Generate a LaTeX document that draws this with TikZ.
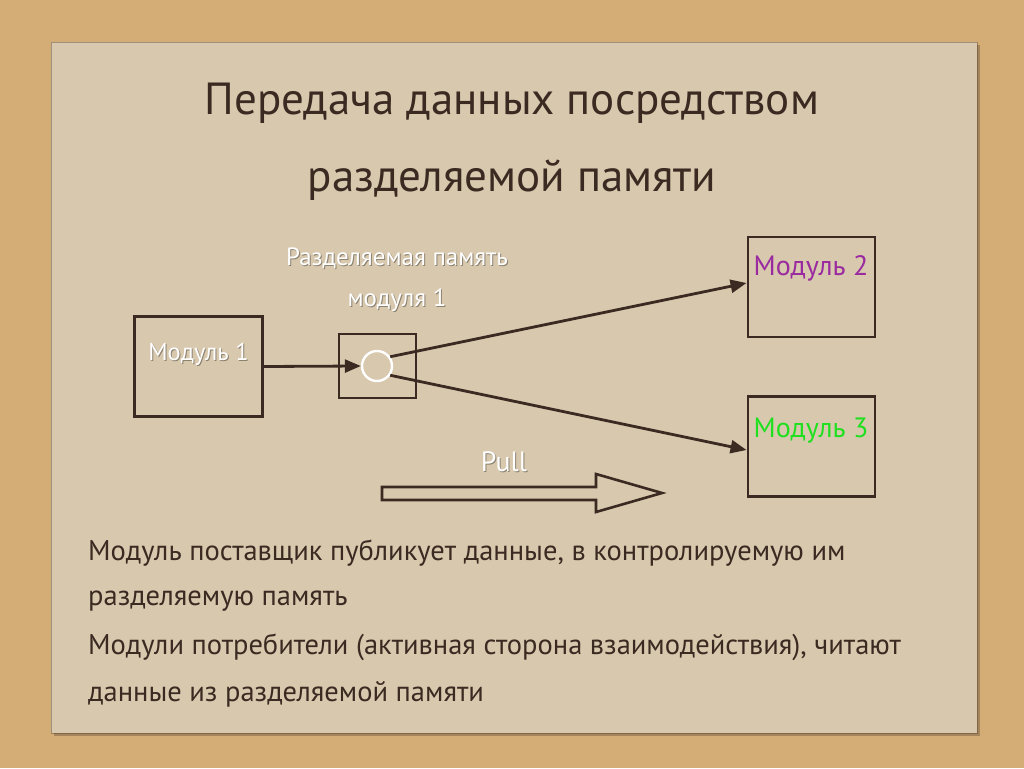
\documentclass[tikz,border=0pt]{standalone}
\usepackage{fontspec}
\setmainfont{PT Sans}
\usetikzlibrary{arrows.meta,calc}
\definecolor{sand}{HTML}{D4AC76}
\definecolor{paper}{HTML}{D8C8AD}
\definecolor{ink}{HTML}{3B2A22}
\definecolor{modpurple}{HTML}{9A2AA0}
\definecolor{modgreen}{HTML}{1EE01E}
\tikzset{
  sketch/.style={draw=ink, line width=2.9pt},
  modbox/.style={sketch, rectangle, inner sep=0pt, minimum width=128pt, minimum height=100pt},
  conn/.style={ink, line width=2.8pt, -{Triangle[length=16pt,width=13pt]}},
  wlabel/.style={text=white, font=\fontsize{25}{29}\selectfont, inner sep=0pt},
  shadowlabel/.style={text=black, opacity=0.35, font=\fontsize{25}{29}\selectfont, inner sep=0pt},
  modlabel/.style={font=\fontsize{28}{32}\selectfont, inner sep=0pt},
  titletext/.style={text=ink, font=\fontsize{45}{50}\selectfont, inner sep=0pt},
  bodytext/.style={text=ink, font=\fontsize{28.5}{32}\selectfont, inner sep=0pt, anchor=west},
}
\begin{document}
\begin{tikzpicture}[x=1pt,y=-1pt]
\useasboundingbox (0,0) rectangle (1024,768);
\fill[sand] (0,0) rectangle (1024,768);
% paper
\fill[black, opacity=0.22] (54,45) rectangle (980,736);
\fill[paper] (51,42) rectangle (977,733);
\draw[ink, opacity=0.35, line width=0.8pt] (51,42) rectangle (977,733);

% title
\node[titletext] (t1) at (512,103) {Передача данных посредством};
\node[titletext] (t2) at (512,180) {разделяемой памяти};

% boxes
\node[modbox] (m1) at (198.5,366.5) {};
\node[sketch, rectangle, inner sep=0pt, minimum width=77pt, minimum height=64pt] (mem) at (377.5,366) {};
\node[draw=white, circle, line width=2.4pt, minimum size=30pt, inner sep=0pt] (c) at (377,366) {};
\node[modbox, minimum width=127pt] (m2) at (811.5,287) {};
\node[modbox, minimum width=127pt] (m3) at (811.5,446.5) {};

% labels
\node[shadowlabel, font=\fontsize{24.5}{28}\selectfont] at (199.5,355.5) {Модуль 1};
\node[wlabel, font=\fontsize{24.5}{28}\selectfont] (l1) at (198.5,354.5) {Модуль 1};
\node[shadowlabel] at (398,259) {Разделяемая память};
\node[wlabel] (l2) at (397,258) {Разделяемая память};
\node[shadowlabel] at (398,301) {модуля 1};
\node[wlabel] (l3) at (397,300) {модуля 1};
\node[modlabel, text=modpurple] (l4) at (811,268) {Модуль 2};
\node[modlabel, text=modgreen] (l5) at (811,431) {Модуль 3};
\node[shadowlabel, font=\fontsize{28}{32}\selectfont] at (505,463) {Pull};
\node[wlabel, font=\fontsize{28}{32}\selectfont] (l6) at (504,462) {Pull};

% connectors
\draw[conn] (m1.east) -- (c.west);
\draw[conn] (c.35) -- (m2.west |- 0,283);
\draw[conn] (c.-35) -- (m3.west |- 0,450);

% pull arrow
\draw[ink, line width=2.6pt, line join=miter]
  (382,487) -- (596,487) -- (596,474) -- (662,493) -- (596,512) -- (596,500) -- (382,500) -- cycle;

% body text
\node[bodytext] (b1) at (88,553) {Модуль поставщик публикует данные, в контролируемую им};
\node[bodytext] (b2) at (88,601) {разделяемую память};
\node[bodytext] (b3) at (88,647) {Модули потребители (активная сторона взаимодействия), читают};
\node[bodytext] (b4) at (88,694) {данные из разделяемой памяти};
\end{tikzpicture}
\end{document}
